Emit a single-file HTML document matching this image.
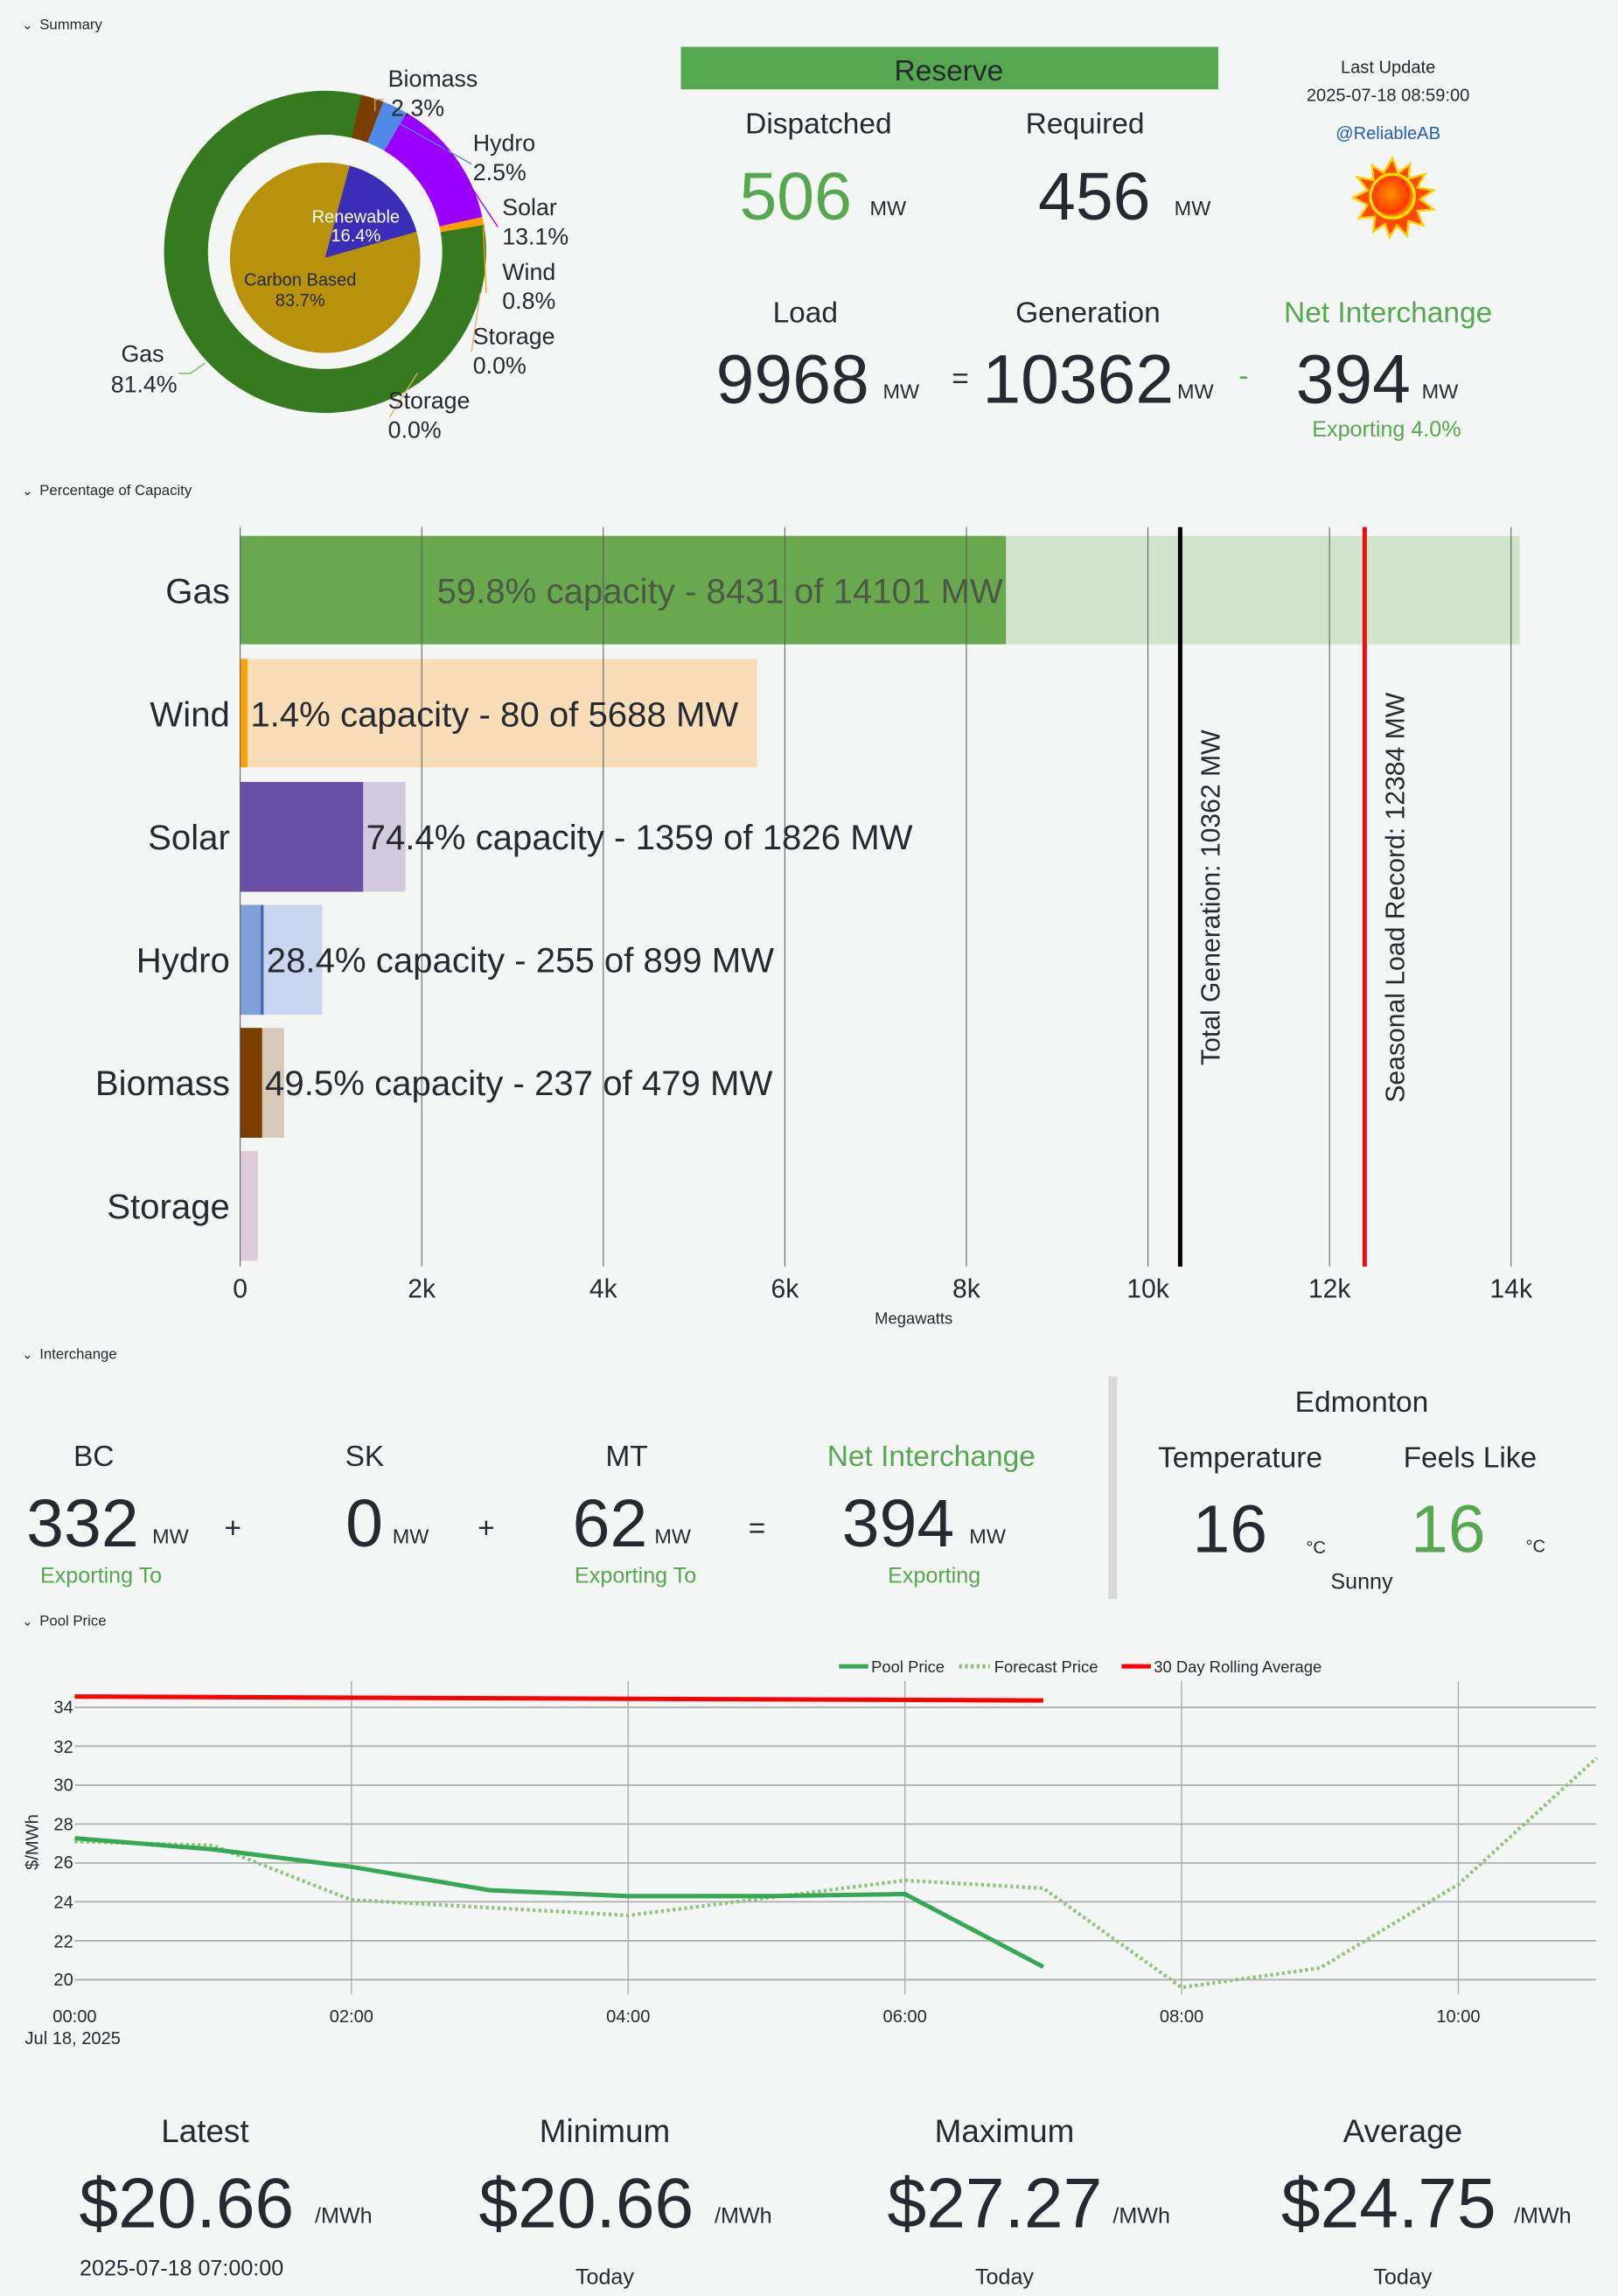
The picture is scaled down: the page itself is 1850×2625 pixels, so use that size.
<!DOCTYPE html>
<html><head><meta charset="utf-8"><style>
html,body{margin:0;padding:0;background:#f4f6f5;}
svg{display:block;}
text{font-family:"Liberation Sans",sans-serif;fill:#262a30;}
.g{fill:#55a84f;}
</style></head><body>
<svg width="1850" height="2625" viewBox="0 0 1105 1568" xmlns="http://www.w3.org/2000/svg">
<rect width="1105" height="1568" fill="#f4f6f5"/>
<text x="15" y="20" font-size="9">⌄</text><text x="27" y="20" font-size="10">Summary</text>
<text x="15" y="338" font-size="9">⌄</text><text x="27" y="338" font-size="10">Percentage of Capacity</text>
<text x="15" y="928" font-size="9">⌄</text><text x="27" y="928" font-size="10">Interchange</text>
<text x="15" y="1110" font-size="9">⌄</text><text x="27" y="1110" font-size="10">Pool Price</text>

<g>
<circle cx="222" cy="172" r="95" fill="none" stroke="#367a1f" stroke-width="30" stroke-dasharray="486 700" transform="rotate(-10 222 172)"/>
<circle cx="222" cy="172" r="95" fill="none" stroke="#7a3e00" stroke-width="30" stroke-dasharray="13.7 700" transform="rotate(-76.96 222 172)"/>
<circle cx="222" cy="172" r="95" fill="none" stroke="#4f8ae8" stroke-width="30" stroke-dasharray="14.9 700" transform="rotate(-68.68 222 172)"/>
<circle cx="222" cy="172" r="95" fill="none" stroke="#9b00ff" stroke-width="30" stroke-dasharray="78.2 700" transform="rotate(-59.68 222 172)"/>
<circle cx="222" cy="172" r="95" fill="none" stroke="#ff9f00" stroke-width="30" stroke-dasharray="4.8 700" transform="rotate(-12.52 222 172)"/>
<circle cx="222" cy="176" r="65" fill="#b8920b"/>
<circle cx="222" cy="176" r="32.5" fill="none" stroke="#3a2db8" stroke-width="65" stroke-dasharray="33.5 300" transform="rotate(-75 222 176)"/>
<text x="243" y="152" font-size="12" text-anchor="middle" style="fill:#fff">Renewable</text>
<text x="243" y="165" font-size="12" text-anchor="middle" style="fill:#fff">16.4%</text>
<text x="205" y="195" font-size="12" text-anchor="middle">Carbon Based</text>
<text x="205" y="209" font-size="12" text-anchor="middle">83.7%</text>
<g fill="none" stroke-width="0.8">
<path d="M256 76 L256 68 L262 68" stroke="#c8a070"/>
<path d="M265 80 L322 112" stroke="#4f8ae8"/>
<path d="M300 95 L340 155" stroke="#9b00ff"/>
<path d="M330 155 L332 200" stroke="#ff9f00"/>
<path d="M328 200 L322 240" stroke="#e0b070"/>
<path d="M285 255 L266 285" stroke="#e0b070"/>
<path d="M140 248 L130 255 L122 255" stroke="#7bb06a"/>
</g>
<g font-size="16">
<text x="265" y="59">Biomass</text><text x="267" y="79">2.3%</text>
<text x="323" y="103">Hydro</text><text x="323" y="123">2.5%</text>
<text x="343" y="147">Solar</text><text x="343" y="167">13.1%</text>
<text x="343" y="191">Wind</text><text x="343" y="211">0.8%</text>
<text x="323" y="235">Storage</text><text x="323" y="255">0.0%</text>
<text x="265" y="279">Storage</text><text x="265" y="299">0.0%</text>
<text x="112" y="247" text-anchor="end">Gas</text><text x="121" y="268" text-anchor="end">81.4%</text>
</g>
</g>

<rect x="465" y="32" width="367" height="29" fill="#55a84f"/>
<text x="648" y="55" font-size="20" text-anchor="middle">Reserve</text>
<text x="559" y="91" font-size="20" text-anchor="middle">Dispatched</text>
<text x="741" y="91" font-size="20" text-anchor="middle">Required</text>
<text x="505" y="150" font-size="46" class="g">506</text><text x="594" y="147" font-size="14">MW</text>
<text x="709" y="150" font-size="46">456</text><text x="802" y="147" font-size="14">MW</text>
<text x="948" y="50" font-size="12" text-anchor="middle">Last Update</text>
<text x="948" y="69" font-size="12" text-anchor="middle">2025-07-18 08:59:00</text>
<text x="948" y="95" font-size="12" text-anchor="middle" style="fill:#1f5fbf">@ReliableAB</text>
<defs><radialGradient id="sg" cx="0.45" cy="0.45" r="0.6"><stop offset="0" stop-color="#ff9000"/><stop offset="0.7" stop-color="#ff3a00"/><stop offset="1" stop-color="#ffe000"/></radialGradient></defs>
<polygon points="951,108 955,118 963,112 962,122 973,119 968,128 979,130 970,136 979,143 968,144 972,154 962,151 961,161 954,154 949,162 946,153 938,158 939,148 928,149 934,140 924,135 934,130 927,121 938,123 937,113 945,118" fill="#ff4a00" stroke="#ffd000" stroke-width="1.5"/>
<circle cx="951" cy="134" r="15" fill="url(#sg)" stroke="#ffe000" stroke-width="2"/>

<text x="550" y="220" font-size="20" text-anchor="middle">Load</text>
<text x="743" y="220" font-size="20" text-anchor="middle">Generation</text>
<text x="948" y="220" font-size="20" text-anchor="middle" class="g">Net Interchange</text>
<text x="489" y="275" font-size="47">9968</text><text x="603" y="272" font-size="14">MW</text>
<text x="650" y="265" font-size="20">=</text>
<text x="671" y="275" font-size="47">10362</text><text x="804" y="272" font-size="14">MW</text>
<text x="846" y="263" font-size="20" class="g">-</text>
<text x="885" y="275" font-size="47">394</text><text x="971" y="272" font-size="14">MW</text>
<text x="947" y="298" font-size="15" text-anchor="middle" class="g">Exporting 4.0%</text>

<g>
<rect x="164" y="366" width="874" height="74" fill="#d0e3cb"/>
<rect x="164" y="366" width="523" height="74" fill="#69a84f"/>
<rect x="164" y="450" width="353" height="74" fill="#f7deb8"/>
<rect x="164" y="450" width="5" height="74" fill="#ff9f00"/>
<rect x="164" y="534" width="113" height="75" fill="#d2cbe0"/>
<rect x="164" y="534" width="84" height="75" fill="#6a4fa8"/>
<rect x="164" y="618" width="56" height="75" fill="#c8d6ef"/>
<rect x="164" y="618" width="16" height="75" fill="#7fa0d8"/>
<rect x="178" y="618" width="2" height="75" fill="#4a6ab0"/>
<rect x="164" y="702" width="30" height="75" fill="#d8c8b8"/>
<rect x="164" y="702" width="15" height="75" fill="#7a3e00"/>
<rect x="164" y="786" width="12" height="75" fill="#e0ccd8"/>
<g stroke="#555" stroke-width="0.6">
<line x1="164" y1="360" x2="164" y2="865"/><line x1="288" y1="360" x2="288" y2="865"/>
<line x1="412" y1="360" x2="412" y2="865"/><line x1="536" y1="360" x2="536" y2="865"/>
<line x1="660" y1="360" x2="660" y2="865"/><line x1="784" y1="360" x2="784" y2="865"/>
<line x1="908" y1="360" x2="908" y2="865"/><line x1="1032" y1="360" x2="1032" y2="865"/>
</g>
<line x1="806" y1="360" x2="806" y2="865" stroke="#000" stroke-width="3"/>
<line x1="932" y1="360" x2="932" y2="865" stroke="#e81010" stroke-width="3"/>
<text transform="translate(833 613) rotate(-90)" font-size="18" text-anchor="middle">Total Generation: 10362 MW</text>
<text transform="translate(959 613) rotate(-90)" font-size="18" text-anchor="middle">Seasonal Load Record: 12384 MW</text>
<text x="685" y="412" font-size="24" text-anchor="end" style="fill:#4a5a44">59.8% capacity - 8431 of 14101 MW</text>
<text x="171" y="496" font-size="24">1.4% capacity - 80 of 5688 MW</text>
<text x="250" y="580" font-size="24">74.4% capacity - 1359 of 1826 MW</text>
<text x="182" y="664" font-size="24">28.4% capacity - 255 of 899 MW</text>
<text x="181" y="748" font-size="24">49.5% capacity - 237 of 479 MW</text>
<g font-size="24" text-anchor="end">
<text x="157" y="412">Gas</text><text x="157" y="496">Wind</text><text x="157" y="580">Solar</text>
<text x="157" y="664">Hydro</text><text x="157" y="748">Biomass</text><text x="157" y="832">Storage</text>
</g>
<g font-size="18" text-anchor="middle">
<text x="164" y="886">0</text><text x="288" y="886">2k</text><text x="412" y="886">4k</text><text x="536" y="886">6k</text>
<text x="660" y="886">8k</text><text x="784" y="886">10k</text><text x="908" y="886">12k</text><text x="1032" y="886">14k</text>
</g>
<text x="624" y="904" font-size="11" text-anchor="middle">Megawatts</text>
</g>

<g>
<text x="64" y="1001" font-size="20" text-anchor="middle">BC</text>
<text x="18" y="1056" font-size="46">332</text><text x="104" y="1054" font-size="14">MW</text>
<text x="69" y="1081" font-size="15" text-anchor="middle" class="g">Exporting To</text>
<text x="159" y="1050" font-size="20" text-anchor="middle">+</text>
<text x="249" y="1001" font-size="20" text-anchor="middle">SK</text>
<text x="236" y="1056" font-size="46">0</text><text x="268" y="1054" font-size="14">MW</text>
<text x="332" y="1050" font-size="20" text-anchor="middle">+</text>
<text x="428" y="1001" font-size="20" text-anchor="middle">MT</text>
<text x="391" y="1056" font-size="46">62</text><text x="447" y="1054" font-size="14">MW</text>
<text x="434" y="1081" font-size="15" text-anchor="middle" class="g">Exporting To</text>
<text x="517" y="1050" font-size="20" text-anchor="middle">=</text>
<text x="636" y="1001" font-size="20" text-anchor="middle" class="g">Net Interchange</text>
<text x="575" y="1056" font-size="46">394</text><text x="662" y="1054" font-size="14">MW</text>
<text x="638" y="1081" font-size="15" text-anchor="middle" class="g">Exporting</text>
<rect x="757" y="940" width="6" height="152" fill="#d8d8d8"/>
<text x="930" y="964" font-size="20" text-anchor="middle">Edmonton</text>
<text x="847" y="1002" font-size="20" text-anchor="middle">Temperature</text>
<text x="1004" y="1002" font-size="20" text-anchor="middle">Feels Like</text>
<text x="840" y="1060" font-size="46" text-anchor="middle">16</text>
<text x="892" y="1061" font-size="12">°C</text>
<text x="989" y="1060" font-size="46" text-anchor="middle" class="g">16</text>
<text x="1042" y="1060" font-size="12">°C</text>
<text x="930" y="1085" font-size="15" text-anchor="middle">Sunny</text>
</g>

<g>
<line x1="573" y1="1138" x2="593" y2="1138" stroke="#34a853" stroke-width="3"/>
<text x="595" y="1142" font-size="11">Pool Price</text>
<line x1="655" y1="1138" x2="676" y2="1138" stroke="#8fc47a" stroke-width="3" stroke-dasharray="2 2"/>
<text x="679" y="1142" font-size="11">Forecast Price</text>
<line x1="766" y1="1138" x2="786" y2="1138" stroke="#f00" stroke-width="3"/>
<text x="788" y="1142" font-size="11">30 Day Rolling Average</text>
<g stroke="#aaa" stroke-width="0.8">
<line x1="240" y1="1148" x2="240" y2="1362"/><line x1="429" y1="1148" x2="429" y2="1362"/>
<line x1="618" y1="1148" x2="618" y2="1362"/><line x1="807" y1="1148" x2="807" y2="1362"/>
<line x1="996" y1="1148" x2="996" y2="1362"/>
</g>
<g stroke="#aaa" stroke-width="1">
<line x1="51" y1="1352" x2="1090" y2="1352"/><line x1="51" y1="1325.4" x2="1090" y2="1325.4"/>
<line x1="51" y1="1298.8" x2="1090" y2="1298.8"/><line x1="51" y1="1272.3" x2="1090" y2="1272.3"/>
<line x1="51" y1="1245.7" x2="1090" y2="1245.7"/><line x1="51" y1="1219.1" x2="1090" y2="1219.1"/>
<line x1="51" y1="1192.5" x2="1090" y2="1192.5"/><line x1="51" y1="1166" x2="1090" y2="1166"/>
</g>
<g font-size="12" text-anchor="end">
<text x="50" y="1356">20</text><text x="50" y="1330">22</text><text x="50" y="1303">24</text>
<text x="50" y="1276">26</text><text x="50" y="1250">28</text><text x="50" y="1223">30</text>
<text x="50" y="1197">32</text><text x="50" y="1170">34</text>
</g>
<text transform="translate(26 1258) rotate(-90)" font-size="12" text-anchor="middle">$/MWh</text>
<polyline fill="none" stroke="#f00" stroke-width="3" points="51,1158.6 712.5,1161.3"/>
<polyline fill="none" stroke="#8fc47a" stroke-width="2.5" stroke-dasharray="2 2" points="51,1257.6 145.5,1260.3 240,1297.5 334.5,1302.8 429,1308.1 523.5,1296.2 618,1284.2 712.5,1289.5 807,1357.3 901.5,1344 996,1286.9 1090.5,1200.5"/>
<polyline fill="none" stroke="#34a853" stroke-width="3" points="51,1255.4 145.5,1263 240,1274.9 334.5,1290.9 429,1294.9 523.5,1294.9 618,1293.5 712.5,1343.2"/>
<g font-size="12" text-anchor="middle">
<text x="51" y="1381">00:00</text><text x="240" y="1381">02:00</text><text x="429" y="1381">04:00</text>
<text x="618" y="1381">06:00</text><text x="807" y="1381">08:00</text><text x="996" y="1381">10:00</text>
</g>
<text x="17" y="1396" font-size="12">Jul 18, 2025</text>
</g>

<g>
<text x="140" y="1463" font-size="22" text-anchor="middle">Latest</text>
<text x="54" y="1521" font-size="48">$20.66</text><text x="215" y="1518" font-size="15">/MWh</text>
<text x="124" y="1554" font-size="15" text-anchor="middle">2025-07-18 07:00:00</text>
<text x="413" y="1463" font-size="22" text-anchor="middle">Minimum</text>
<text x="327" y="1521" font-size="48">$20.66</text><text x="488" y="1518" font-size="15">/MWh</text>
<text x="413" y="1560" font-size="15" text-anchor="middle">Today</text>
<text x="686" y="1463" font-size="22" text-anchor="middle">Maximum</text>
<text x="606" y="1521" font-size="48">$27.27</text><text x="760" y="1518" font-size="15">/MWh</text>
<text x="686" y="1560" font-size="15" text-anchor="middle">Today</text>
<text x="958" y="1463" font-size="22" text-anchor="middle">Average</text>
<text x="875" y="1521" font-size="48">$24.75</text><text x="1034" y="1518" font-size="15">/MWh</text>
<text x="958" y="1560" font-size="15" text-anchor="middle">Today</text>
</g>
</svg>
</body></html>
